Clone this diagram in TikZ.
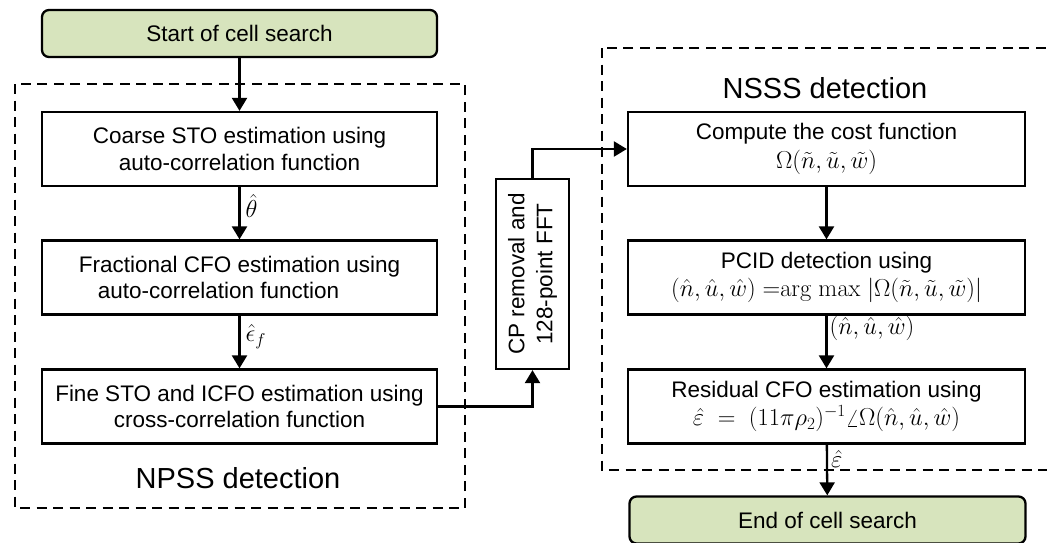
\documentclass[tikz,border=0pt]{standalone}
\usepackage{fix-cm}
\usepackage[no-math]{fontspec}
\setmainfont{Liberation Sans}
\usetikzlibrary{arrows.meta}
\definecolor{termfill}{RGB}{215,228,189}
\newcommand{\mth}[1]{{\fontsize{24.5}{26.5}\selectfont$#1$}}
\tikzset{
  boxstyle/.style={draw, line width=2.3pt, minimum width=395pt, minimum height=74pt, inner sep=0pt, align=center, font=\fontsize{22.5}{26.5}\selectfont},
  termstyle/.style={boxstyle, fill=termfill, rounded corners=7pt, minimum height=47pt},
  groupstyle/.style={draw, line width=2.2pt, dash pattern=on 10pt off 6.5pt},
  arr/.style={line width=2.3pt, -{Triangle[width=15pt,length=13pt]}},
  lbl/.style={inner sep=2pt, font=\fontsize{24.5}{26.5}\selectfont},
  titlestyle/.style={inner sep=0pt, font=\fontsize{29}{34}\selectfont}
}
\begin{document}
\begin{tikzpicture}[x=1pt,y=-1pt]
\clip (0,0) rectangle (1047,542);
\fill[white] (0,0) rectangle (1047,542);
% group frames
\draw[groupstyle] (15,84) rectangle (465,508);
\draw[groupstyle] (602,48) rectangle (1070,470);
\node[titlestyle] (npss) at (238,478) {NPSS detection};
\node[titlestyle] (nsss) at (825,88) {NSSS detection};
% left column
\node[termstyle] (start) at (239.5,33.5) {Start of cell search};
\node[boxstyle] (b1) at (239.5,149) {Coarse STO estimation using\\auto-correlation function};
\node[boxstyle] (b2) at (239.5,277.5) {Fractional CFO estimation using\\auto-correlation function\hspace*{42pt}};
\node[boxstyle] (b3) at (239.5,406.5) {Fine STO and ICFO estimation using\\cross-correlation function};
% CP box
\node[boxstyle, rotate=90, minimum width=190pt, minimum height=73pt] (cp) at (532.5,274) {CP removal and\\[1.5pt]128-point FFT};
% right column
\node[boxstyle, minimum width=397pt] (b4) at (826.5,149) {Compute the cost function\\[2pt]\mth{\Omega(\tilde{n},\tilde{u},\tilde{w})}};
\node[boxstyle, minimum width=397pt] (b5) at (826.5,277.5) {PCID detection using\\[2pt]\mth{(\hat{n},\hat{u},\hat{w})\;{=}\mathrm{arg\ max}\;|\Omega(\tilde{n},\tilde{u},\tilde{w})|}};
\node[boxstyle, minimum width=397pt] (b6) at (826.5,406.5) {Residual CFO estimation using\\[2pt]\mth{\hat{\varepsilon}\;=\;(11\pi\rho_2)^{-1}\angle\Omega(\hat{n},\hat{u},\hat{w})}};
\node[termstyle, minimum width=396pt] (end) at (827.5,520) {End of cell search};
% connectors
\draw[arr] (start) -- (b1);
\draw[arr] (b1) -- node[lbl, right, pos=0.36, xshift=3pt] {$\hat{\theta}$} (b2);
\draw[arr] (b2) -- node[lbl, right, pos=0.4, xshift=3pt] {$\hat{\epsilon}_f$} (b3);
\draw[arr] (b3.east) -| (cp.west);
\draw[arr] (cp.east) |- (b4.west);
\draw[arr] (b4) -- (b5);
\draw[arr] (b5) -- node[lbl, right, pos=0.25, xshift=0pt] {$(\hat{n},\hat{u},\hat{w})$} (b6);
\draw[arr] (b6) -- node[lbl, right, pos=0.28, xshift=1pt] {$\hat{\varepsilon}$} (end);
\end{tikzpicture}
\end{document}
